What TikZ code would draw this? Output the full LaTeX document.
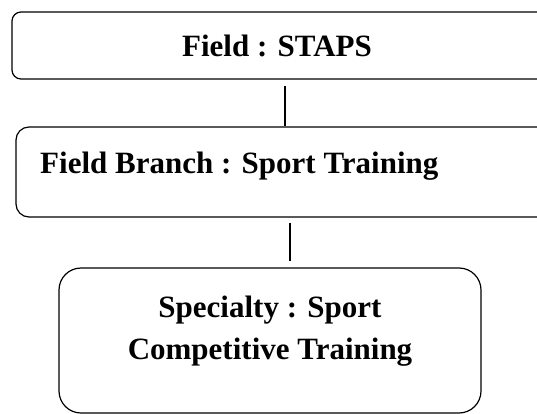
\documentclass[tikz,border=0pt]{standalone}
\usepackage{fontspec}
\setmainfont{Liberation Serif}
\usepackage{tikz}
\usetikzlibrary{positioning}

\begin{document}
\begin{tikzpicture}[x=1pt,y=-1pt,
  box/.style={draw,line width=1.2pt,inner sep=0pt},
  label text/.style={inner sep=0pt,font=\fontsize{31}{42}\selectfont\bfseries},
  link/.style={line width=1.2pt}]
  \useasboundingbox (0,0) rectangle (537,414);
  \clip (0,0) rectangle (537,414);
  \node[box,rounded corners=9pt,minimum width=538pt,minimum height=67pt]
    (field) at (281,45.5) {};
  \node[label text] (fieldtext) at (277,45.5) {Field : STAPS};
  \node[box,rounded corners=13pt,minimum width=534pt,minimum height=90pt]
    (branch) at (283,172) {};
  \node[label text,anchor=base west] (branchtext) at (40,173)
    {Field Branch : Sport Training};
  \node[box,rounded corners=22pt,minimum width=422pt,minimum height=145pt]
    (specialty) at (270,340.5) {};
  \node[label text,align=center,anchor=north] (specialtytext) at (270,296)
    {Specialty : Sport\\Competitive Training};
  \coordinate (j1) at (285,0);
  \coordinate (j2) at (290,0);
  \draw[link,shorten <=6pt] (field.south -| j1) -- (branch.north -| j1);
  \draw[link,shorten <=5pt,shorten >=6pt] (branch.south -| j2) -- (specialty.north -| j2);
\end{tikzpicture}
\end{document}
